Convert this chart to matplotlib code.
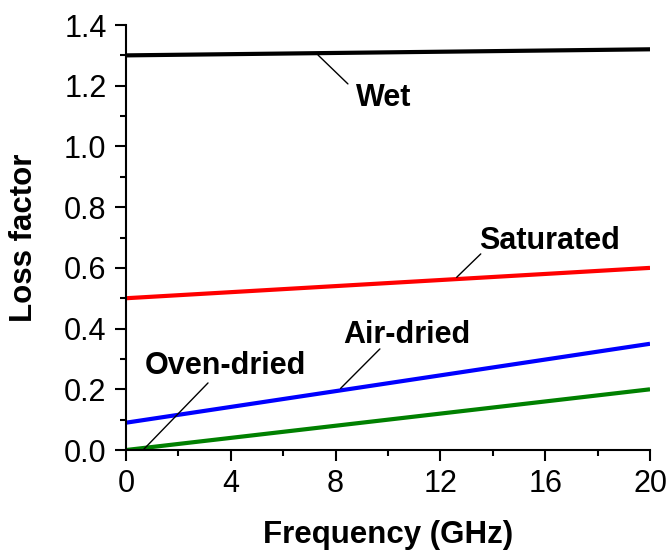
import matplotlib
matplotlib.use('Agg')
import matplotlib.pyplot as plt
from matplotlib.ticker import MultipleLocator

plt.rcParams['font.family'] = ['Liberation Sans', 'DejaVu Sans']

freq = [0, 20]
wet = [1.30, 1.32]
saturated = [0.50, 0.60]
air_dried = [0.09, 0.35]
oven_dried = [0.0, 0.20]

# label text, leader line start (on curve), leader line end, text centre
labels = [
    ('Wet', (7.33, 1.301), (8.47, 1.206), (9.85, 1.160)),
    ('Saturated', (12.62, 0.569), (13.54, 0.646), (16.16, 0.690)),
    ('Air-dried', (8.19, 0.203), (9.69, 0.333), (10.71, 0.380)),
    ('Oven-dried', (0.65, 0.0), (3.13, 0.221), (3.80, 0.277)),
]

fig = plt.figure(figsize=(6.72, 5.56), dpi=100)
ax = fig.add_axes([0.1875, 0.1906, 0.7798, 0.7644])

ax.plot(freq, wet, color='black', lw=3, solid_capstyle='butt')
ax.plot(freq, saturated, color='#ff0000', lw=3, solid_capstyle='butt')
ax.plot(freq, air_dried, color='#0000ff', lw=3, solid_capstyle='butt')
ax.plot(freq, oven_dried, color='#008000', lw=3, solid_capstyle='butt')

for text, p0, p1, pt in labels:
    ax.annotate('', xy=p0, xytext=p1,
                arrowprops=dict(arrowstyle='-', lw=1, color='black',
                                shrinkA=0, shrinkB=0))
    ax.text(pt[0], pt[1], text, ha='center', va='center',
            fontsize=22, fontweight='bold')

ax.set_xlim(0, 20)
ax.set_ylim(0, 1.4)
ax.xaxis.set_major_locator(MultipleLocator(4))
ax.xaxis.set_minor_locator(MultipleLocator(2))
ax.yaxis.set_major_locator(MultipleLocator(0.2))
ax.yaxis.set_minor_locator(MultipleLocator(0.1))
ax.yaxis.set_major_formatter(matplotlib.ticker.FormatStrFormatter('%.1f'))

for s in ['top', 'right']:
    ax.spines[s].set_visible(False)
for s in ['left', 'bottom']:
    ax.spines[s].set_linewidth(1.5)

ax.tick_params(which='major', direction='out', length=8, width=1.5,
               labelsize=22, pad=6)
ax.tick_params(which='minor', direction='out', length=4, width=1.5)

ax.set_xlabel('Frequency (GHz)', fontsize=22.5, fontweight='bold', labelpad=15)
ax.set_ylabel('Loss factor', fontsize=22.5, fontweight='bold', labelpad=18)

fig.savefig('out.png', dpi=100)
